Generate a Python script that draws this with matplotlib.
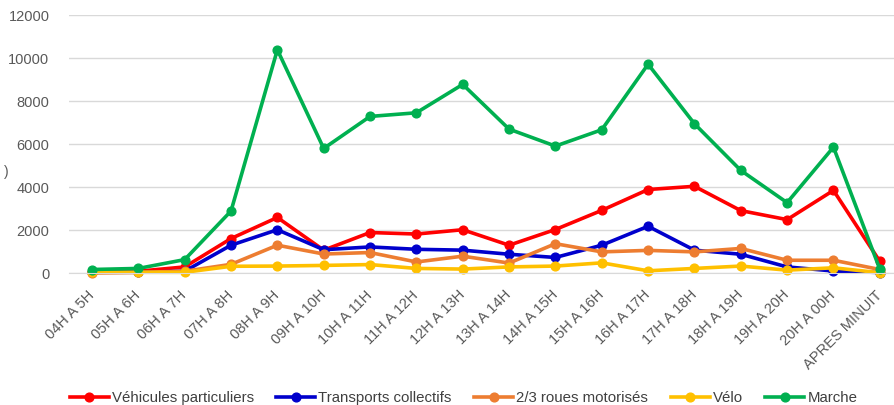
import matplotlib
matplotlib.use("Agg")
import matplotlib.pyplot as plt

categories = ["04H A 5H", "05H A 6H", "06H A 7H", "07H A 8H", "08H A 9H", "09H A 10H",
              "10H A 11H", "11H A 12H", "12H A 13H", "13H A 14H", "14H A 15H", "15H A 16H",
              "16H A 17H", "17H A 18H", "18H A 19H", "19H A 20H", "20H A 00H", "APRES MINUIT"]

vehicules = [50, 100, 300, 1620, 2600, 1080, 1900, 1830, 2030, 1310, 2040, 2930, 3900, 4050, 2920, 2500, 3860, 560]
transports = [50, 50, 100, 1310, 2030, 1100, 1230, 1120, 1080, 890, 740, 1310, 2190, 1080, 890, 300, 110, 40]
deux_roues = [20, 50, 100, 420, 1310, 900, 970, 530, 800, 480, 1380, 1000, 1070, 1000, 1160, 610, 610, 180]
velo = [50, 50, 50, 330, 340, 370, 410, 230, 200, 300, 340, 490, 120, 230, 340, 150, 260, 30]
marche = [180, 230, 640, 2900, 10400, 5810, 7300, 7470, 8790, 6710, 5920, 6680, 9730, 6960, 4790, 3290, 5870, 200]

series = [
    ("Véhicules particuliers", vehicules, "#FF0000"),
    ("Transports collectifs", transports, "#0000CC"),
    ("2/3 roues motorisés", deux_roues, "#ED7D31"),
    ("Vélo", velo, "#FFC000"),
    ("Marche", marche, "#00B050"),
]

plt.rcParams['font.family'] = ['Liberation Sans', 'DejaVu Sans']

fig = plt.figure(figsize=(8.95, 4.05), dpi=100)
ax = fig.add_axes([0.0769, 0.325, 0.932, 0.637])

x = list(range(len(categories)))
for name, vals, col in series:
    ax.plot(x, vals, color=col, lw=2.6, marker='o', markersize=6.3, label=name,
            solid_joinstyle='round', clip_on=False)

ax.set_xlim(-0.5, len(categories) - 0.5)
ax.set_ylim(0, 12000)
ax.set_yticks(range(0, 12001, 2000))
ax.grid(axis='y', color='#D9D9D9', lw=1)
ax.set_axisbelow(True)
for s in ['top', 'right', 'left']:
    ax.spines[s].set_visible(False)
ax.spines['bottom'].set_color('#D9D9D9')
ax.tick_params(axis='both', length=0, colors='#595959', labelsize=10.5)
ax.tick_params(axis='y', pad=14)
ax.set_xticks(x)
ax.set_xticklabels(categories, rotation=45, ha='right', va='center', rotation_mode='anchor')
ax.tick_params(axis='x', pad=14)

fig.text(0.004, 0.575, ")", fontsize=10, color='#595959', ha='left', va='center')

fig.legend(loc='center', bbox_to_anchor=(0.518, 0.017), ncol=5, frameon=False,
           fontsize=10.8, handlelength=2.6, handletextpad=0.2, columnspacing=1.5,
           labelcolor='#404040')

fig.savefig("out.png", dpi=100)
